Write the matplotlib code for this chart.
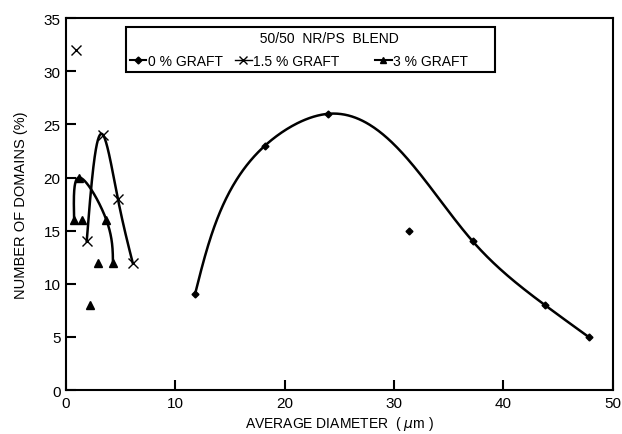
import matplotlib
matplotlib.use('Agg')
import matplotlib.pyplot as plt
from matplotlib.lines import Line2D
import numpy as np

plt.rcParams['font.family'] = ['Liberation Sans', 'DejaVu Sans']

# 0 % graft
d0_x = [11.8, 18.2, 24.0, 31.4, 37.2, 43.8, 47.8]
d0_y = [9, 23, 26, 15, 14, 8, 5]
d0_curve = [0, 1, 2, 4, 5, 6]          # indices the fitted line passes through

# 1.5 % graft
d15_x = [0.9, 1.9, 3.4, 4.75, 6.1]
d15_y = [32, 14, 24, 18, 12]
d15_curve = [1, 2, 3, 4]

# 3 % graft
d3_x = [0.75, 1.2, 1.5, 2.2, 2.9, 3.7, 4.3]
d3_y = [16, 20, 16, 8, 12, 16, 12]
d3_curve = [0, 1, 5, 6]

labels = ['0 % GRAFT', '1.5 % GRAFT', '3 % GRAFT']
legend_title = '50/50  NR/PS  BLEND'


def spline1d(t, y, tt):
    n = len(t)
    h = np.diff(t)
    A = np.zeros((n, n))
    r = np.zeros(n)
    A[0, 0] = A[-1, -1] = 1
    for i in range(1, n - 1):
        A[i, i - 1] = h[i - 1]
        A[i, i] = 2 * (h[i - 1] + h[i])
        A[i, i + 1] = h[i]
        r[i] = 6 * ((y[i + 1] - y[i]) / h[i] - (y[i] - y[i - 1]) / h[i - 1])
    M = np.linalg.solve(A, r)
    out = np.empty_like(tt)
    for k, v in enumerate(tt):
        i = min(np.searchsorted(t, v, side='right') - 1, n - 2)
        i = max(i, 0)
        a, b, hi = t[i + 1] - v, v - t[i], h[i]
        out[k] = (M[i] * a**3 + M[i + 1] * b**3) / (6 * hi) \
            + (y[i] / hi - M[i] * hi / 6) * a + (y[i + 1] / hi - M[i + 1] * hi / 6) * b
    return out


def smooth(xs, ys, idx, alpha=1.0):
    # parametric spline in display-like units so steep parts stay smooth
    x = np.array([xs[i] for i in idx], float)
    y = np.array([ys[i] for i in idx], float)
    px, py = x * 11.0, y * 10.6
    seg = np.hypot(np.diff(px), np.diff(py)) ** alpha
    t = np.concatenate([[0], np.cumsum(seg)])
    tt = np.linspace(0, t[-1], 400)
    return spline1d(t, x, tt), spline1d(t, y, tt)


fig = plt.figure(figsize=(6.22, 4.35), dpi=100)
ax = fig.add_axes([0.106, 0.101, 0.879, 0.855])

lw = 1.8
cx, cy = smooth(d0_x, d0_y, d0_curve)
ax.plot(cx, cy, color='black', lw=lw)
ax.plot(d0_x, d0_y, 'D', color='black', ms=3.5, ls='none')

cx, cy = smooth(d15_x, d15_y, d15_curve)
ax.plot(cx, cy, color='black', lw=lw)
ax.plot(d15_x, d15_y, 'x', color='black', ms=7, mew=1.0, ls='none')

cx, cy = smooth(d3_x, d3_y, d3_curve, alpha=0.5)
ax.plot(cx, cy, color='black', lw=lw)
ax.plot(d3_x, d3_y, '^', color='black', ms=5.5, ls='none')

ax.set_xlim(0, 50)
ax.set_ylim(0, 35)
ax.set_xticks(range(0, 51, 10))
ax.set_yticks(range(0, 36, 5))
ax.tick_params(direction='in', length=7, width=1.5, labelsize=11, pad=4)
for s in ax.spines.values():
    s.set_linewidth(1.5)

ax.set_xlabel('AVERAGE DIAMETER  ( $\\mu$m )', fontsize=10, labelpad=3)
ax.set_ylabel('NUMBER OF DOMAINS (%)', fontsize=10.5, labelpad=11)

handles = [
    Line2D([], [], color='black', lw=1.5, marker='D', ms=3.5),
    Line2D([], [], color='black', lw=1.0, marker='x', ms=6),
    Line2D([], [], color='black', lw=1.5, marker='^', ms=5),
]
# pad the entries so the third column sits further right, as in the original figure
leg_labels = [labels[0], labels[1] + ' ' * 6, labels[2] + ' ' * 6]
leg = ax.legend(handles, leg_labels,
                title=' ' * 10 + legend_title, ncol=3, loc='upper left',
                bbox_to_anchor=(0.110, 0.976), fontsize=10, title_fontsize=10,
                handlelength=1.2, handletextpad=0.1, columnspacing=0.9,
                labelspacing=0.7, borderpad=0.25, borderaxespad=0,
                fancybox=False, edgecolor='black', framealpha=1)
leg.get_frame().set_linewidth(1.5)

plt.savefig('out.png', dpi=100)
plt.close()
